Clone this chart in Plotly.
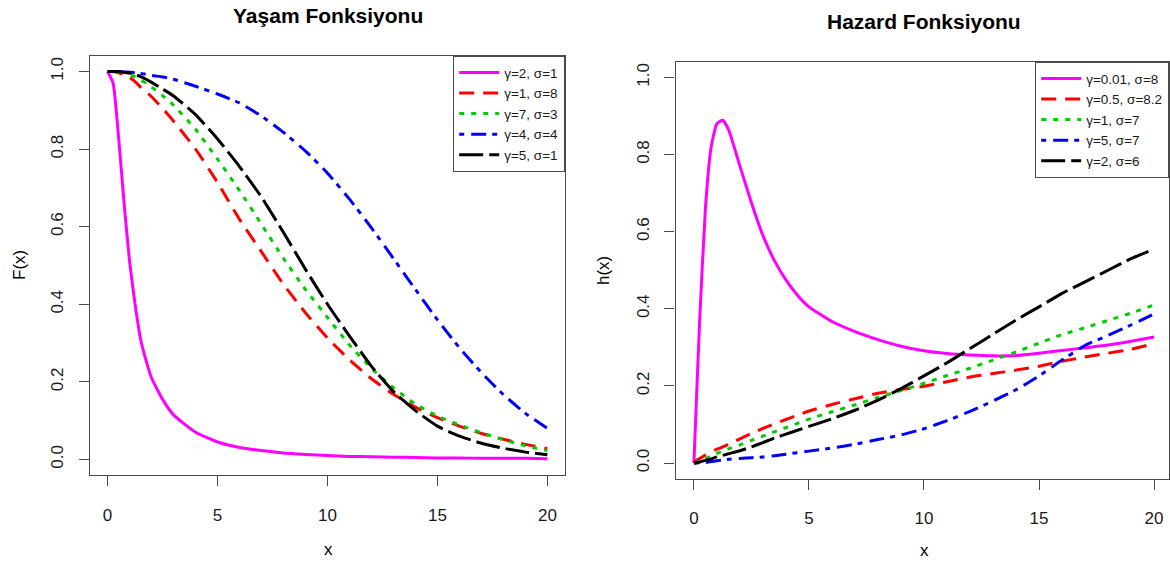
import plotly.graph_objects as go

W, H = 1170, 563

# ---- Survival functions F(x) (left panel) ----
X_SURV = [0, 0.25, 0.5, 0.75, 1, 1.25, 1.5, 1.75, 2, 2.5, 3,
          4, 5, 6, 7, 8, 9, 10, 11, 12, 13, 14, 15, 16, 17, 18, 19, 20]
SURV_LABELS = ["γ=2, σ=1", "γ=1, σ=8", "γ=7, σ=3", "γ=4, σ=4", "γ=5, σ=1"]
SURV_G2_S1 = [1, 0.97, 0.83, 0.66, 0.51, 0.40, 0.31, 0.255, 0.21, 0.155, 0.115,
              0.07, 0.045, 0.031, 0.023, 0.017, 0.013, 0.01, 0.008, 0.007,
              0.006, 0.005, 0.004, 0.004, 0.003, 0.003, 0.003, 0.002]
SURV_G1_S8 = [1, 1.0, 0.997, 0.992, 0.985, 0.974, 0.96, 0.948, 0.935, 0.905, 0.872,
              0.80, 0.714, 0.619, 0.535, 0.451, 0.378, 0.313, 0.257, 0.208,
              0.168, 0.135, 0.108, 0.086, 0.067, 0.052, 0.039, 0.028]
SURV_G7_S3 = [1, 1, 0.999, 0.996, 0.992, 0.986, 0.978, 0.97, 0.96, 0.938, 0.913,
              0.851, 0.774, 0.693, 0.606, 0.518, 0.438, 0.366, 0.295, 0.235,
              0.185, 0.143, 0.112, 0.089, 0.069, 0.051, 0.035, 0.023]
SURV_G4_S4 = [1, 1, 1, 0.999, 0.998, 0.997, 0.995, 0.993, 0.99, 0.986, 0.98,
              0.962, 0.942, 0.919, 0.885, 0.843, 0.795, 0.738, 0.671, 0.597,
              0.518, 0.438, 0.36, 0.288, 0.224, 0.167, 0.119, 0.08]
SURV_G5_S1 = [1, 1, 1, 0.998, 0.996, 0.992, 0.987, 0.98, 0.972, 0.955, 0.937,
              0.889, 0.826, 0.755, 0.676, 0.585, 0.49, 0.40, 0.318, 0.24,
              0.175, 0.126, 0.086, 0.06, 0.042, 0.029, 0.019, 0.012]

# ---- Hazard functions h(x) (right panel) ----
X_HAZ = [0, 0.1, 0.25, 0.5, 0.75, 1, 1.25, 1.5, 2, 2.5, 3, 3.5, 4, 4.5,
         5, 6, 7, 8, 9, 10, 11, 12, 13, 14, 15, 16, 17, 18, 19, 20]
HAZ_LABELS = ["γ=0.01, σ=8", "γ=0.5, σ=8.2", "γ=1, σ=7", "γ=5, σ=7", "γ=2, σ=6"]
HAZ_G001_S8 = [0, 0.15, 0.37, 0.66, 0.82, 0.88, 0.889, 0.865, 0.77, 0.675, 0.59,
               0.525, 0.475, 0.435, 0.405, 0.367, 0.341, 0.32, 0.303, 0.291,
               0.284, 0.28, 0.278, 0.279, 0.285, 0.292, 0.299, 0.306, 0.316, 0.327]
HAZ_G05_S82 = [0, 0.006, 0.012, 0.021, 0.029, 0.036, 0.042, 0.049, 0.063, 0.077,
               0.09, 0.102, 0.113, 0.124, 0.135, 0.152, 0.167, 0.181, 0.191,
               0.199, 0.211, 0.223, 0.232, 0.241, 0.251, 0.264, 0.275, 0.285,
               0.295, 0.31]
HAZ_G1_S7 = [0, 0.002, 0.006, 0.012, 0.018, 0.025, 0.031, 0.037, 0.047, 0.059,
             0.07, 0.081, 0.092, 0.103, 0.114, 0.133, 0.151, 0.17, 0.188, 0.207,
             0.227, 0.246, 0.267, 0.288, 0.311, 0.333, 0.351, 0.37, 0.389, 0.41]
HAZ_G5_S7 = [0, 0, 0.001, 0.002, 0.004, 0.006, 0.008, 0.01, 0.012, 0.014, 0.016,
             0.019, 0.023, 0.027, 0.031, 0.039, 0.049, 0.061, 0.073, 0.089,
             0.11, 0.134, 0.161, 0.19, 0.226, 0.267, 0.305, 0.331, 0.358, 0.387]
HAZ_G2_S6 = [0, 0.001, 0.003, 0.007, 0.011, 0.016, 0.02, 0.024, 0.032, 0.042,
             0.053, 0.065, 0.075, 0.085, 0.095, 0.115, 0.137, 0.163, 0.193,
             0.226, 0.26, 0.297, 0.334, 0.371, 0.405, 0.44, 0.47, 0.5, 0.53,
             0.555]

X_TICKS = [0, 5, 10, 15, 20]
Y_TICKS = [0.0, 0.2, 0.4, 0.6, 0.8, 1.0]

FONT = "Liberation Sans, Arial, sans-serif"
INK = "#1a1a1a"
FRAME = "#4a4a4a"

# line colour / dash for R-style lty 1..5
STYLES = [
    ("#FF00FF", "solid"),
    ("#FF0000", "15px,9px"),
    ("#00CD00", "5px,7px"),
    ("#0000FF", "5px,7px,15px,6px"),
    ("#000000", "24px,6px"),
]


def fx(p):
    return p / W


def fy(p):
    return 1 - p / H


fig = go.Figure()

surv_series = [SURV_G2_S1, SURV_G1_S8, SURV_G7_S3, SURV_G4_S4, SURV_G5_S1]
for ys, name, (col, dash) in zip(surv_series, SURV_LABELS, STYLES):
    fig.add_trace(go.Scatter(
        x=X_SURV, y=ys, name=name, mode="lines",
        line=dict(color=col, dash=dash, width=3, shape="spline", smoothing=0.5),
        xaxis="x", yaxis="y", legend="legend",
    ))

haz_series = [HAZ_G001_S8, HAZ_G05_S82, HAZ_G1_S7, HAZ_G5_S7, HAZ_G2_S6]
for ys, name, (col, dash) in zip(haz_series, HAZ_LABELS, STYLES):
    fig.add_trace(go.Scatter(
        x=X_HAZ, y=ys, name=name, mode="lines",
        line=dict(color=col, dash=dash, width=3, shape="spline", smoothing=0.5),
        xaxis="x2", yaxis="y2", legend="legend2",
    ))

axis_common = dict(
    showline=True, mirror=True, linecolor=FRAME, linewidth=1.3,
    ticks="outside", ticklen=10, tickwidth=1.2, tickcolor=FRAME,
    showgrid=False, zeroline=False,
    tickfont=dict(family=FONT, size=17, color=INK),
    fixedrange=True,
)
xcommon = dict(axis_common, tickvals=X_TICKS, ticklabelstandoff=14)
ycommon = dict(axis_common, tickvals=Y_TICKS, tickformat=".1f",
               tickangle=-90, ticklabelstandoff=9)

legend_common = dict(
    xanchor="right", yanchor="top", bgcolor="white",
    bordercolor=FRAME, borderwidth=1.2,
    font=dict(family=FONT, size=13.5, color=INK),
    itemwidth=40, tracegroupgap=0,
)

fig.update_layout(
    width=W, height=H,
    margin=dict(l=0, r=0, t=0, b=0),
    paper_bgcolor="white", plot_bgcolor="white",
    font=dict(family=FONT, color=INK),
    xaxis=dict(xcommon, domain=[fx(90), fx(565)], range=[-0.8, 20.8], anchor="y"),
    yaxis=dict(ycommon, domain=[fy(475), fy(56)], range=[-0.04, 1.04], anchor="x"),
    xaxis2=dict(xcommon, domain=[fx(675.5), fx(1169)], range=[-0.8, 20.65], anchor="y2"),
    yaxis2=dict(ycommon, domain=[fy(478.5), fy(62)], range=[-0.04, 1.04], anchor="x2"),
    legend=dict(legend_common, x=fx(565), y=fy(56)),
    legend2=dict(legend_common, x=fx(1169), y=fy(62)),
    showlegend=True,
)

annots = [
    dict(text="<b>Yaşam Fonksiyonu</b>", x=fx(328), y=fy(15), font=dict(size=21)),
    dict(text="<b>Hazard Fonksiyonu</b>", x=fx(924), y=fy(21), font=dict(size=21)),
    dict(text="x", x=fx(328), y=fy(549), font=dict(size=17)),
    dict(text="x", x=fx(924), y=fy(550), font=dict(size=17)),
    dict(text="F(x)", x=fx(20), y=fy(265), font=dict(size=17), textangle=-90),
    dict(text="h(x)", x=fx(603), y=fy(270), font=dict(size=17), textangle=-90),
]
for a in annots:
    fig.add_annotation(
        xref="paper", yref="paper", showarrow=False,
        xanchor="center", yanchor="middle",
        text=a["text"], x=a["x"], y=a["y"],
        textangle=a.get("textangle", 0),
        font=dict(family=FONT, color="#000000", size=a["font"]["size"]),
    )

fig.write_html("out.html")
